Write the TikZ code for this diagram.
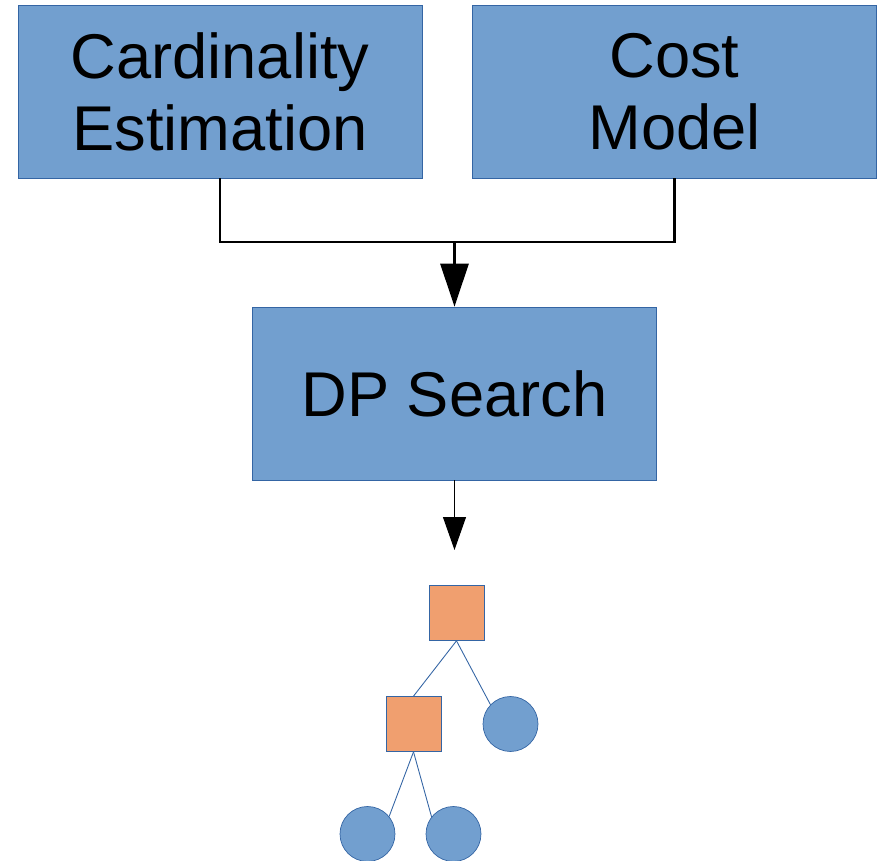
\documentclass[tikz,border=0pt]{standalone}
\usepackage{fontspec}
\setmainfont{Liberation Sans}
\usepackage{xcolor}
\usetikzlibrary{arrows.meta}
\definecolor{boxblue}{HTML}{729FCF}
\definecolor{lineblue}{HTML}{3465A4}
\definecolor{planorange}{HTML}{F09F6F}
\tikzset{
  stage/.style={draw=lineblue,fill=boxblue,rectangle,minimum width=8.08cm,minimum height=3.46cm,align=center,inner sep=0pt,font=\fontsize{36}{41}\selectfont},
  joinop/.style={draw=lineblue,fill=planorange,rectangle,minimum size=1.1cm,inner sep=0pt},
  scanop/.style={draw=lineblue,fill=boxblue,circle,minimum size=1.1cm,inner sep=0pt},
  treeedge/.style={draw=lineblue,line width=0.5pt}
}
\begin{document}
\begin{tikzpicture}[x=0.02cm,y=-0.02cm]
\useasboundingbox (0,0) rectangle (880,861);
\node[stage] (ce) at (220,91.5) {Cardinality\\Estimation};
\node[stage] (cm) at (674.5,91.5) {Cost\\Model};
\node[stage] (dp) at (454.5,393.5) {DP Search};
\coordinate (mid) at (454.5,242);
\coordinate (out) at (454.5,550);
\draw[line width=1.7pt] (ce.south) |- (mid) -| (cm.south);
\draw[line width=1.7pt,-{Triangle[length=0.86cm,width=0.56cm]}] (mid) -- (dp.north);
\draw[line width=0.6pt,-{Triangle[length=0.66cm,width=0.46cm]}] (dp.south) -- (out);
% plan tree
\node[joinop] (j1) at (456.5,613) {};
\node[joinop] (j2) at (413.5,724) {};
\node[scanop] (s1) at (510.5,724) {};
\node[scanop] (s2) at (367.5,834) {};
\node[scanop] (s3) at (453.5,834) {};
\draw[treeedge] (j1.south) -- (j2.north);
\draw[treeedge] (j1.south) -- (s1.136);
\draw[treeedge] (j2.south) -- (s2.39);
\draw[treeedge] (j2.south) -- (s3.142);
\end{tikzpicture}
\end{document}
